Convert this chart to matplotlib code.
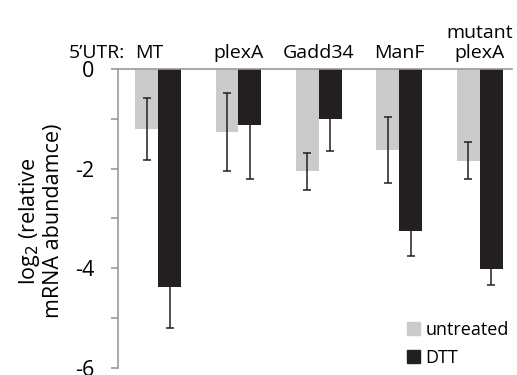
import numpy as np
import matplotlib
matplotlib.use('Agg')
import matplotlib.pyplot as plt
from matplotlib.patches import Patch

# ── Data ─────────────────────────────────────────────────────────────────────
constructs = ['MT', 'plexA', 'Gadd34', 'ManF', 'mutant\nplexA']
untreated = [-1.21, -1.27, -2.05, -1.62, -1.84]
untreated_err = [0.62, 0.78, 0.37, 0.66, 0.37]
dtt = [-4.38, -1.12, -1.01, -3.25, -4.02]
dtt_err = [0.82, 1.08, 0.63, 0.51, 0.32]

GREY = '#cbcbcb'
BLACK = '#231f20'
AXIS = '#9a9a9a'

plt.rcParams.update({
    'font.family': ['Open Sans', 'DejaVu Sans'],
    'font.size': 14,
})

fig = plt.figure(figsize=(5.17, 3.75), dpi=100)
ax = fig.add_axes([0.228, 0.019, 0.762, 0.797])

x = np.arange(len(constructs))
w = 0.285
ax.bar(x - w / 2, untreated, width=w, color=GREY, edgecolor='none', zorder=2)
ax.bar(x + w / 2, dtt, width=w, color=BLACK, edgecolor='none', zorder=2)
ax.errorbar(x - w / 2, untreated, yerr=untreated_err, fmt='none',
            ecolor=BLACK, elinewidth=1.1, capsize=3, capthick=1.1, zorder=3)
ax.errorbar(x + w / 2, dtt, yerr=dtt_err, fmt='none',
            ecolor=BLACK, elinewidth=1.1, capsize=3, capthick=1.1, zorder=3)

ax.set_xlim(-0.5, 4.4)
ax.set_ylim(-6, 0)

# spines: grey left axis, x axis line on top at 0
ax.spines[['right', 'bottom']].set_visible(False)
ax.spines['left'].set_color(AXIS)
ax.spines['top'].set_color(AXIS)
ax.spines['left'].set_linewidth(1.2)
ax.spines['top'].set_linewidth(1.2)
ax.set_xticks([])
yt = [0, -1, -2, -3, -4, -5, -6]
ax.set_yticks(yt)
ax.set_yticklabels(['0' if v == 0 else (f'-{abs(v)}' if v % 2 == 0 else '') for v in yt])
ax.tick_params(axis='y', length=5, width=1.2, color=AXIS, pad=12, labelsize=15.5)

# category labels above the axis
for i, lab in enumerate(constructs):
    if i == 0:
        ax.text(i - w, 1.025, lab, transform=ax.get_xaxis_transform(),
                ha='left', va='bottom', fontsize=14)
    else:
        ax.text(i, 1.025, lab, transform=ax.get_xaxis_transform(),
                ha='center', va='bottom', fontsize=14, linespacing=1.1)
ax.text(-0.5 + 0.09, 1.025, "5\u2019UTR:", transform=ax.get_xaxis_transform(),
        ha='right', va='bottom', fontsize=14)

fig.text(0.078, 0.41, 'log$_2$ (relative\nmRNA abundamce)', rotation=90,
         ha='center', va='center', fontsize=15.5, linespacing=1.05)

handles = [Patch(color=GREY, label='untreated'), Patch(color=BLACK, label='DTT')]
ax.legend(handles=handles, loc='lower right', bbox_to_anchor=(1.033, -0.05),
          frameon=False, fontsize=13, handlelength=0.7, handleheight=0.7,
          handletextpad=0.3, labelspacing=0.55)

fig.savefig('out.png', dpi=100, facecolor='white')
